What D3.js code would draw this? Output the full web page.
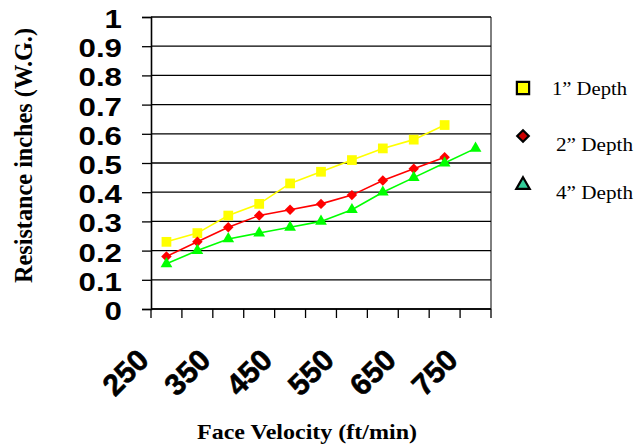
<!DOCTYPE html>
<html>
<head>
<meta charset="utf-8">
<script src="https://cdn.jsdelivr.net/npm/d3@7"></script>
<style>
  html, body { margin: 0; padding: 0; background: #fff; }
  svg { display: block; }
</style>
</head>
<body>
<svg id="chart"></svg>
<script>
// face velocity categories (ft/min)
const velocities = [250, 300, 350, 400, 450, 500, 550, 600, 650, 700, 750]
const xTickLabels = ['250', '350', '450', '550', '650', '750']
const yTicks = [0, 0.1, 0.2, 0.3, 0.4, 0.5, 0.6, 0.7, 0.8, 0.9, 1]

// resistance, inches W.G.
const depth1 = [0.23, 0.26, 0.32, 0.36, 0.43, 0.47, 0.51, 0.55, 0.58, 0.63]
const depth2 = [0.18, 0.23, 0.28, 0.32, 0.34, 0.36, 0.39, 0.44, 0.48, 0.52]
const depth4 = [0.155, 0.2, 0.24, 0.26, 0.28, 0.3, 0.34, 0.4, 0.45, 0.5, 0.55]

const seriesNames = ['1\u201D Depth', '2\u201D Depth', '4\u201D Depth']

const width = 641
const height = 447
const margin = { top: 17, right: 150, bottom: 138, left: 151 }

const svg = d3.select('#chart').attr('width', width).attr('height', height)

const x = d3
  .scaleBand()
  .domain(velocities)
  .range([margin.left, width - margin.right])
  .padding(0)
const y = d3
  .scaleLinear()
  .domain([0, 1])
  .range([height - margin.bottom, margin.top])

const series = [
  { name: seriesNames[0], values: depth1, line: '#ffff00', legendFill: '#ffff00', shape: d3.symbolSquare, size: 95, legendSize: 150 },
  { name: seriesNames[1], values: depth2, line: '#ff0000', legendFill: '#cc0000', shape: d3.symbolDiamond2, size: 70, legendSize: 85 },
  { name: seriesNames[2], values: depth4, line: '#00ff00', legendFill: '#33cc99', shape: d3.symbolTriangle, size: 60, legendSize: 78 }
]

// gridlines
svg
  .append('g')
  .selectAll('line')
  .data(yTicks)
  .join('line')
  .attr('x1', margin.left)
  .attr('x2', width - margin.right)
  .attr('y1', (d) => y(d))
  .attr('y2', (d) => y(d))
  .attr('stroke', '#000')
  .attr('stroke-width', 1.3)

// right border
svg
  .append('line')
  .attr('x1', width - margin.right)
  .attr('x2', width - margin.right)
  .attr('y1', y(1))
  .attr('y2', y(0))
  .attr('stroke', '#000')
  .attr('stroke-width', 1)

// y axis
const yAxis = svg
  .append('g')
  .attr('transform', `translate(${margin.left},0)`)
  .call(d3.axisLeft(y).tickValues(yTicks).tickSize(9).tickFormat(''))
yAxis.select('.domain').attr('stroke-width', 1.6)
yAxis.selectAll('.tick line').attr('stroke-width', 1.3)

yAxis
  .selectAll('.tick')
  .append('text')
  .attr('transform', 'translate(-29,10.5) scale(1.25,1)')
  .attr('text-anchor', 'end')
  .attr('fill', '#000')
  .style('font-family', '"Liberation Sans", Arial, sans-serif')
  .style('font-weight', 'bold')
  .style('font-size', '25px')
  .text((d) => d3.format('~g')(d))

// x axis, ticks on category boundaries
const bounds = velocities.map((v) => x(v)).concat([width - margin.right])
const xAxisG = svg.append('g')
xAxisG
  .append('line')
  .attr('x1', margin.left)
  .attr('x2', width - margin.right)
  .attr('y1', y(0))
  .attr('y2', y(0))
  .attr('stroke', '#000')
  .attr('stroke-width', 1.6)
xAxisG
  .selectAll('line.tk')
  .data(bounds)
  .join('line')
  .attr('class', 'tk')
  .attr('x1', (d) => d)
  .attr('x2', (d) => d)
  .attr('y1', y(0))
  .attr('y2', y(0) + 9)
  .attr('stroke', '#000')
  .attr('stroke-width', 1.3)

xAxisG
  .selectAll('text')
  .data(xTickLabels)
  .join('text')
  .attr('transform', (d) => `translate(${x(+d) + x.bandwidth() / 2 - 16},${y(0) + 53}) rotate(-45)`)
  .attr('text-anchor', 'end')
  .attr('stroke', '#000')
  .attr('stroke-width', 0.6)
  .style('font-family', '"Liberation Sans", Arial, sans-serif')
  .style('font-weight', 'bold')
  .style('font-size', '30px')
  .text((d) => d)

// lines + markers
const line = d3
  .line()
  .x((d, i) => x(velocities[i]) + x.bandwidth() / 2)
  .y((d) => y(d))

series.forEach((s) => {
  const g = svg.append('g')
  g.append('path')
    .attr('d', line(s.values))
    .attr('fill', 'none')
    .attr('stroke', s.line)
    .attr('stroke-width', 1.6)
  g.selectAll('path.mk')
    .data(s.values)
    .join('path')
    .attr('class', 'mk')
    .attr('transform', (d, i) => `translate(${x(velocities[i]) + x.bandwidth() / 2},${y(d)})`)
    .attr('d', d3.symbol().type(s.shape).size(s.size))
    .attr('fill', s.line)
})

// titles
svg
  .append('text')
  .attr('x', 307)
  .attr('y', 439)
  .attr('text-anchor', 'middle')
  .attr('textLength', 220)
  .attr('lengthAdjust', 'spacingAndGlyphs')
  .style('font-family', '"Liberation Serif", "Times New Roman", serif')
  .style('font-weight', 'bold')
  .style('font-size', '21px')
  .text('Face Velocity (ft/min)')

svg
  .append('text')
  .attr('transform', 'translate(32,155.5) rotate(-90)')
  .attr('text-anchor', 'middle')
  .attr('textLength', 255)
  .attr('lengthAdjust', 'spacingAndGlyphs')
  .style('font-family', '"Liberation Serif", "Times New Roman", serif')
  .style('font-weight', 'bold')
  .style('font-size', '25.5px')
  .text('Resistance inches (W.G.)')

// legend
const legendRows = [
  { cy: 88, tx: 552, ty: 94.5, len: 75 },
  { cy: 136, tx: 556, ty: 151, len: 77 },
  { cy: 185, tx: 556, ty: 198.5, len: 77 }
]
const legend = svg.append('g')
series.forEach((s, i) => {
  const r = legendRows[i]
  legend
    .append('path')
    .attr('transform', `translate(523,${r.cy})`)
    .attr('d', d3.symbol().type(s.shape).size(s.legendSize))
    .attr('fill', s.legendFill)
    .attr('stroke', '#000')
    .attr('stroke-width', 2.2)
  legend
    .append('text')
    .attr('x', r.tx)
    .attr('y', r.ty)
    .attr('textLength', r.len)
    .attr('lengthAdjust', 'spacingAndGlyphs')
    .style('font-family', '"Liberation Serif", "Times New Roman", serif')
    .style('font-size', '18px')
    .text(s.name)
})
</script>
</body>
</html>
